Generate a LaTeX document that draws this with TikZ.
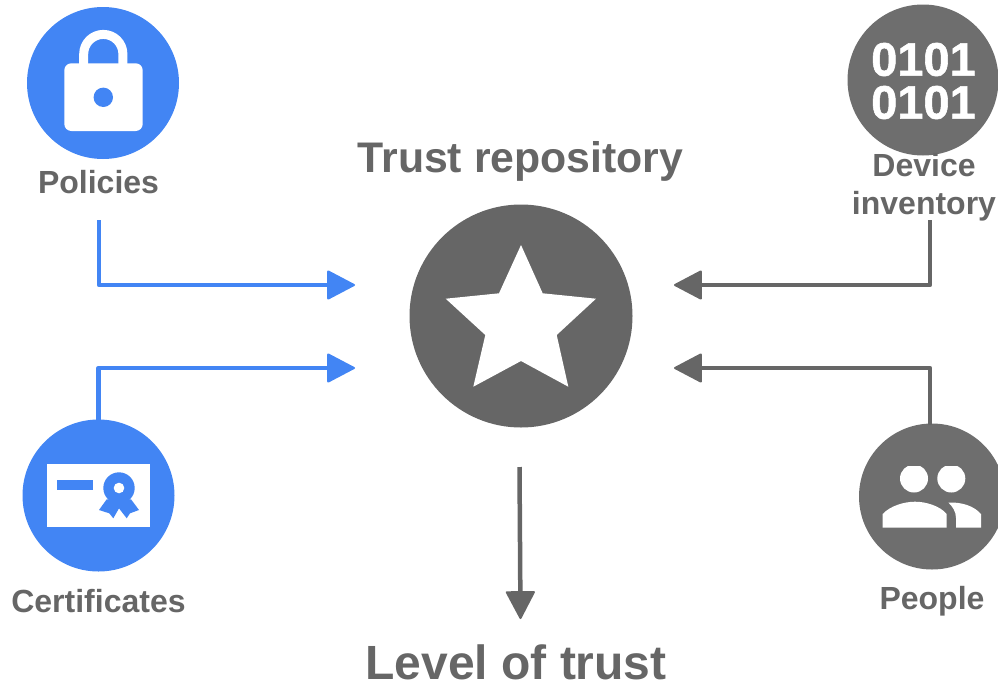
\documentclass[tikz,border=0pt]{standalone}
\usepackage{fontspec}
\setmainfont{Liberation Sans}
\newfontfamily\binfont[FakeBold=1.2]{Liberation Sans Bold}
\usetikzlibrary{arrows.meta}
\definecolor{gblue}{HTML}{4285F4}
\definecolor{ggrey}{HTML}{666666}
\definecolor{lgrey}{HTML}{6E6E6E}
\tikzset{
  disc/.style={circle,draw=none,inner sep=0pt},
  bluedisc/.style={disc,fill=gblue},
  greydisc/.style={disc,fill=ggrey},
  lgreydisc/.style={disc,fill=lgrey},
  lbl/.style={text=ggrey,font=\bfseries\fontsize{32}{36}\selectfont,inner sep=0pt,anchor=base,align=center},
  biglbl/.style={text=ggrey,font=\bfseries\fontsize{42.8}{50}\selectfont,inner sep=0pt,anchor=base},
  hugelbl/.style={text=ggrey,font=\bfseries\fontsize{48}{54}\selectfont,inner sep=0pt,anchor=base},
  binlbl/.style={text=white,font=\binfont\fontsize{47}{43}\selectfont,inner sep=0pt,align=center},
  conn/.style={line width=4.5pt,line join=round,-{Triangle[length=29pt,width=30pt,round,line width=2pt]}}
}
\begin{document}
\begin{tikzpicture}[x=1pt,y=-1pt]
\useasboundingbox (0,0) rectangle (998,686);
% discs
\node[bluedisc,minimum size=152pt] (pol) at (103,83) {};
\node[bluedisc,minimum size=152pt] (cert) at (98.5,495.5) {};
\node[lgreydisc,minimum size=151pt] (dev) at (923,80) {};
\node[lgreydisc,minimum size=146pt] (peo) at (932,496.5) {};
\node[greydisc,minimum size=223pt] (star) at (521,316) {};
% labels
\node[lbl] (polt) at (98.5,193) {Policies};
\node[lbl] (certt) at (98.5,612) {Certificates};
\node[lbl] (devt) at (924,176) {Device};
\node[lbl] (invt) at (924,214) {inventory};
\node[lbl] (peot) at (932,609) {People};
\node[biglbl] (trt) at (520.5,172.5) {Trust repository};
\node[hugelbl] (lvt) at (516,679.5) {Level of trust};
% star
\fill[white] (521,245) -- (542.7,293.3) -- (596,298.7) -- (556.7,335) -- (568.3,386.7) -- (521,361) -- (473.3,386.7) -- (485.3,335) -- (445.7,298.7) -- (499,293.3) -- cycle;
% lock
\draw[white,line width=9pt] (83.7,66) -- (83.7,54) arc[start angle=180,end angle=360,radius=19.6] -- (123,66);
\fill[white,rounded corners=7pt] (64.3,63.3) rectangle (142.7,131);
\fill[gblue] (103.3,97.3) circle[radius=9.7];
% certificate
\fill[white] (47,464.3) rectangle (150,526.7);
\fill[gblue] (57.3,480) rectangle (93.3,490.3);
\fill[gblue] (119,488) circle[radius=15.7];
\fill[gblue] (106.7,499.3) -- (99,510) -- (109.3,513.3) -- (113.3,518.3) -- (119,508.3) -- (126.7,518.3) -- (130,513.3) -- (139,510) -- (131,499.3) -- cycle;
\fill[white] (119,488) circle[radius=5.3];
% binary
\node[binlbl] (bin) at (923.5,81) {0101\\0101};
% people
\begin{scope}
\clip (870,466.6) rectangle (990,530);
\fill[white] (914,478.5) circle[radius=14];
\fill[white] (951.3,478.5) circle[radius=14];
\end{scope}
\fill[white] (882.7,527.7) -- (882.7,514) .. controls (890,506) and (904,501.7) .. (915,501.7) .. controls (926,501.7) and (940,506) .. (946.7,514) -- (946.7,527.7) -- cycle;
\fill[white] (948.3,502.5) .. controls (952,506) and (956,511) .. (956,518) -- (956,527.7) -- (981,527.7) -- (981,514) .. controls (974,506) and (962,502) .. (948.3,502.5) -- cycle;
% connectors
\coordinate (a1) at (99,220);
\coordinate (a2) at (355,285);
\coordinate (b2) at (355,368);
\coordinate (c1) at (930,220);
\coordinate (c2) at (674,285);
\coordinate (d2) at (674,368);
\coordinate (e1) at (519.5,467);
\coordinate (e2) at (520.5,619);
\draw[conn,gblue] (a1) |- (a2);
\draw[conn,gblue] (cert.north) ++(0,2) |- (b2);
\draw[conn,ggrey] (c1) |- (c2);
\draw[conn,ggrey] (peo.north) ++(-2,2) |- (d2);
\draw[conn,ggrey] (e1) -- (e2);
\end{tikzpicture}
\end{document}
